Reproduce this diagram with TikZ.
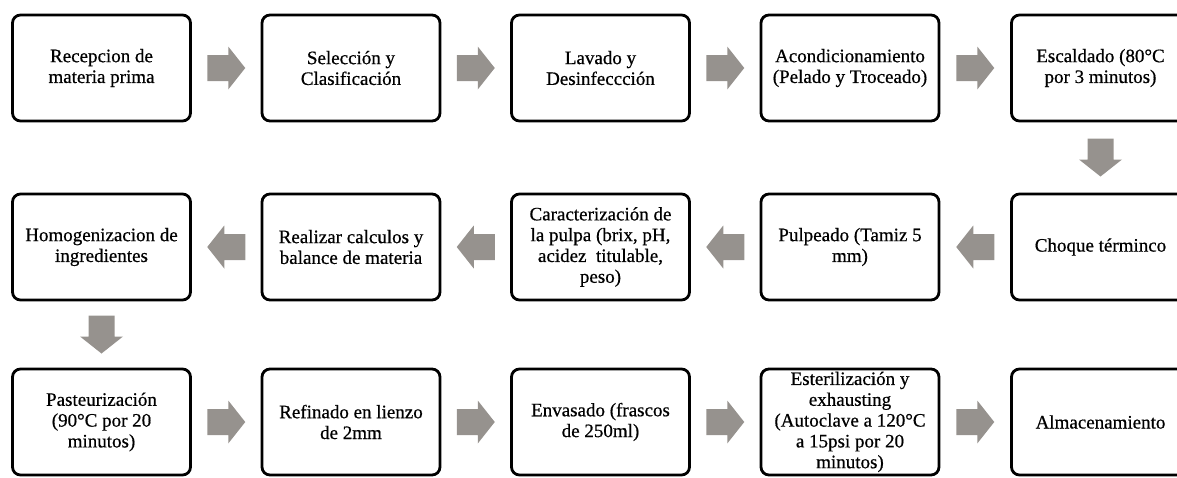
\documentclass[tikz,border=0pt]{standalone}
\usepackage{fontspec}
\setmainfont{Liberation Serif}[FakeBold=0.6]
\newfontfamily\boxfont{Liberation Serif}[FakeBold=0.6]
\usetikzlibrary{calc}
\definecolor{arrowgray}{RGB}{150,146,142}
\tikzset{
  stepbox/.style={draw=black, line width=2.8pt, rounded corners=8pt, fill=white,
    minimum width=178pt, minimum height=106pt, align=center, inner sep=2pt,
    font=\boxfont\fontsize{19}{20.8}\selectfont},
  pics/blockarrow/.style={code={
    \fill[arrowgray] (-19,-13) -- (2,-13) -- (2,-21.5) -- (19,0) -- (2,21.5) -- (2,13) -- (-19,13) -- cycle;
  }},
}
\begin{document}
\begin{tikzpicture}[x=1pt,y=-1pt]
\useasboundingbox (0,0) rectangle (1177,477);
\clip (0,0) rectangle (1177,477);
% row 1
\node[stepbox] (a1) at (101.5,68) {Recepcion de\\materia prima};
\node[stepbox] (a2) at (351,68) {Selección y\\Clasificación};
\node[stepbox] (a3) at (600.5,68) {Lavado y\\Desinfeccción};
\node[stepbox] (a4) at (850,68) {Acondicionamiento\\(Pelado y Troceado)};
\node[stepbox] (a5) at (1100.5,68) {Escaldado (80°C\\por 3 minutos)};
% row 2
\node[stepbox] (b5) at (1100.5,247) {Choque términco};
\node[stepbox] (b4) at (850,247) {Pulpeado (Tamiz 5\\mm)};
\node[stepbox] (b3) at (600.5,247) {Caracterización de\\la pulpa (brix, pH,\\acidez\enspace titulable,\\peso)};
\node[stepbox] (b2) at (351,247) {Realizar calculos y\\balance de materia};
\node[stepbox] (b1) at (101.5,247) {Homogenizacion de\\ingredientes};
% row 3
\node[stepbox] (c1) at (101.5,422) {Pasteurización\\(90°C por 20\\minutos)};
\node[stepbox] (c2) at (351,422) {Refinado en lienzo\\de 2mm};
\node[stepbox] (c3) at (600.5,422) {Envasado (frascos\\de 250ml)};
\node[stepbox] (c4) at (850,422) {Esterilización y\\exhausting\\(Autoclave a 120°C\\a 15psi por 20\\minutos)};
\node[stepbox] (c5) at (1100.5,422) {Almacenamiento};
% arrow anchor points
\coordinate (ra1) at ($(a1.east)!0.5!(a2.west)$);
\coordinate (ra2) at ($(a2.east)!0.5!(a3.west)$);
\coordinate (ra3) at ($(a3.east)!0.5!(a4.west)$);
\coordinate (ra4) at ($(a4.east)!0.5!(a5.west)$);
\coordinate (da5) at ($(a5.south)!0.5!(b5.north)$);
\coordinate (lb4) at ($(b5.west)!0.5!(b4.east)$);
\coordinate (lb3) at ($(b4.west)!0.5!(b3.east)$);
\coordinate (lb2) at ($(b3.west)!0.5!(b2.east)$);
\coordinate (lb1) at ($(b2.west)!0.5!(b1.east)$);
\coordinate (db1) at ($(b1.south)!0.5!(c1.north)$);
\coordinate (rc1) at ($(c1.east)!0.5!(c2.west)$);
\coordinate (rc2) at ($(c2.east)!0.5!(c3.west)$);
\coordinate (rc3) at ($(c3.east)!0.5!(c4.west)$);
\coordinate (rc4) at ($(c4.east)!0.5!(c5.west)$);
% arrows
\foreach \p in {ra1,ra2,ra3,ra4,rc1,rc2,rc3,rc4} {\pic at (\p) {blockarrow};}
\foreach \p in {lb1,lb2,lb3,lb4} {\pic[rotate=180] at (\p) {blockarrow};}
\foreach \p in {da5,db1} {\pic[rotate=-90] at (\p) {blockarrow};}
\end{tikzpicture}
\end{document}
